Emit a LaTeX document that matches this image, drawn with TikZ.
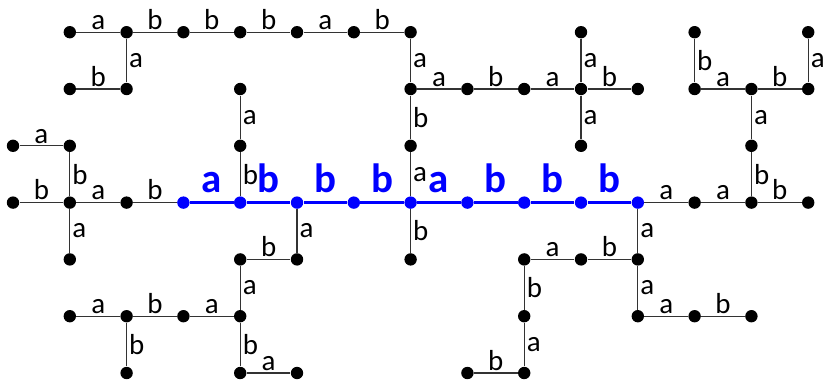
\documentclass[tikz,border=0pt]{standalone}
\usepackage{fontspec}
\setmainfont{Carlito}
\usetikzlibrary{positioning}
\definecolor{pathblue}{RGB}{0, 0, 255}

\begin{document}
\begin{tikzpicture}[
  x = 1cm, y = 1cm,
  dot/.style      = {circle, fill=black, inner sep=0pt, minimum size=6.2pt},
  bluedot/.style  = {dot, fill=pathblue},
  edge/.style     = {draw=black!80, line width=0.6pt},
  blueedge/.style = {draw=pathblue, line width=1.3pt},
  lab/.style      = {font=\fontsize{14.5}{14.5}\selectfont, inner sep=1pt},
  hlab/.style     = {lab, above},
  vlab/.style     = {lab, right},
  bluelab/.style  = {font=\fontsize{20.5}{20.5}\selectfont\bfseries, text=pathblue,
                     inner sep=0.5pt, above=4pt}
]

\useasboundingbox (-0.229,-0.106) rectangle (14.278,6.567);

%% Vertices
\foreach \c/\r in {1/6, 2/6, 3/6, 4/6, 5/6, 6/6, 7/6, 10/6, 12/6, 14/6,
                   1/5, 2/5, 4/5, 7/5, 8/5, 9/5, 10/5, 11/5, 12/5, 13/5, 14/5,
                   0/4, 1/4, 4/4, 7/4, 10/4, 13/4,
                   0/3, 1/3, 2/3, 12/3, 13/3, 14/3,
                   1/2, 4/2, 5/2, 7/2, 9/2, 10/2, 11/2,
                   1/1, 2/1, 3/1, 4/1, 9/1, 11/1, 12/1, 13/1,
                   2/0, 4/0, 5/0, 8/0, 9/0}
  \node[dot] (v\c-\r) at (\c,\r) {};
\foreach \c in {3,...,11}
  \node[bluedot] (v\c-3) at (\c,3) {};

%% Top left
\draw[edge] (v1-6) -- node[hlab] {a} (v2-6);
\draw[edge] (v2-6) -- node[hlab] {b} (v3-6);
\draw[edge] (v3-6) -- node[hlab] {b} (v4-6);
\draw[edge] (v4-6) -- node[hlab] {b} (v5-6);
\draw[edge] (v5-6) -- node[hlab] {a} (v6-6);
\draw[edge] (v6-6) -- node[hlab] {b} (v7-6);
\draw[edge] (v2-6) -- node[vlab] {a} (v2-5);
\draw[edge] (v1-5) -- node[hlab] {b} (v2-5);

%% Middle column
\draw[edge] (v7-6) -- node[vlab] {a} (v7-5);
\draw[edge] (v7-5) -- node[vlab] {b} (v7-4);
\draw[edge] (v7-4) -- node[vlab] {a} (v7-3);
\draw[edge] (v7-3) -- node[vlab] {b} (v7-2);
\draw[edge] (v7-5) -- node[hlab] {a} (v8-5);
\draw[edge] (v8-5) -- node[hlab] {b} (v9-5);
\draw[edge] (v9-5) -- node[hlab] {a} (v10-5);
\draw[edge] (v10-5) -- node[hlab] {b} (v11-5);
\draw[edge] (v10-6) -- node[vlab] {a} (v10-5);
\draw[edge] (v10-5) -- node[vlab] {a} (v10-4);

%% Top right
\draw[edge] (v12-6) -- node[vlab] {b} (v12-5);
\draw[edge] (v12-5) -- node[hlab] {a} (v13-5);
\draw[edge] (v13-5) -- node[hlab] {b} (v14-5);
\draw[edge] (v14-6) -- node[vlab] {a} (v14-5);
\draw[edge] (v13-5) -- node[vlab] {a} (v13-4);
\draw[edge] (v13-4) -- node[vlab] {b} (v13-3);

%% Left
\draw[edge] (v0-4) -- node[hlab] {a} (v1-4);
\draw[edge] (v1-4) -- node[vlab] {b} (v1-3);
\draw[edge] (v1-3) -- node[vlab] {a} (v1-2);
\draw[edge] (v0-3) -- node[hlab] {b} (v1-3);
\draw[edge] (v1-3) -- node[hlab] {a} (v2-3);
\draw[edge] (v2-3) -- node[hlab] {b} (v3-3);

%% Highlighted path
\draw[blueedge] (v3-3) -- node[bluelab] {a} (v4-3);
\draw[blueedge] (v4-3) -- node[bluelab] {b} (v5-3);
\draw[blueedge] (v5-3) -- node[bluelab] {b} (v6-3);
\draw[blueedge] (v6-3) -- node[bluelab] {b} (v7-3);
\draw[blueedge] (v7-3) -- node[bluelab] {a} (v8-3);
\draw[blueedge] (v8-3) -- node[bluelab] {b} (v9-3);
\draw[blueedge] (v9-3) -- node[bluelab] {b} (v10-3);
\draw[blueedge] (v10-3) -- node[bluelab] {b} (v11-3);

%% Right of path
\draw[edge] (v11-3) -- node[hlab] {a} (v12-3);
\draw[edge] (v12-3) -- node[hlab] {a} (v13-3);
\draw[edge] (v13-3) -- node[hlab] {b} (v14-3);

%% Bottom left
\draw[edge] (v4-5) -- node[vlab] {a} (v4-4);
\draw[edge] (v4-4) -- node[vlab] {b} (v4-3);
\draw[edge] (v5-3) -- node[vlab] {a} (v5-2);
\draw[edge] (v4-2) -- node[hlab] {b} (v5-2);
\draw[edge] (v4-2) -- node[vlab] {a} (v4-1);
\draw[edge] (v4-1) -- node[vlab] {b} (v4-0);
\draw[edge] (v4-0) -- node[hlab] {a} (v5-0);
\draw[edge] (v1-1) -- node[hlab] {a} (v2-1);
\draw[edge] (v2-1) -- node[hlab] {b} (v3-1);
\draw[edge] (v3-1) -- node[hlab] {a} (v4-1);
\draw[edge] (v2-1) -- node[vlab] {b} (v2-0);

%% Bottom right
\draw[edge] (v11-3) -- node[vlab] {a} (v11-2);
\draw[edge] (v9-2) -- node[hlab] {a} (v10-2);
\draw[edge] (v10-2) -- node[hlab] {b} (v11-2);
\draw[edge] (v9-2) -- node[vlab] {b} (v9-1);
\draw[edge] (v9-1) -- node[vlab] {a} (v9-0);
\draw[edge] (v8-0) -- node[hlab] {b} (v9-0);
\draw[edge] (v11-2) -- node[vlab] {a} (v11-1);
\draw[edge] (v11-1) -- node[hlab] {a} (v12-1);
\draw[edge] (v12-1) -- node[hlab] {b} (v13-1);

\end{tikzpicture}
\end{document}
